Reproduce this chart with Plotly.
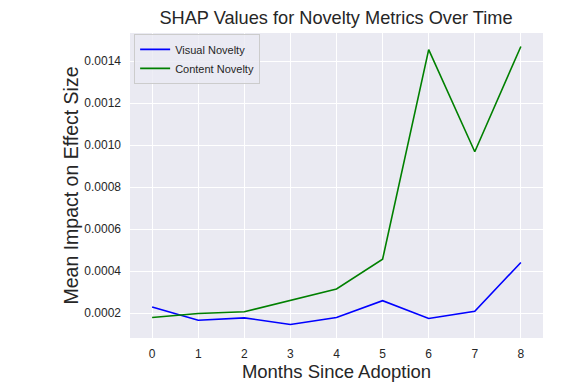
import plotly.graph_objects as go

months = [0, 1, 2, 3, 4, 5, 6, 7, 8]
visual_novelty = [0.000230, 0.000167, 0.000178, 0.000147, 0.000180, 0.000260, 0.000175, 0.000210, 0.000442]
content_novelty = [0.000180, 0.000199, 0.000207, 0.000263, 0.000316, 0.000457, 0.001455, 0.000969, 0.001470]
y_ticks = [0.0002, 0.0004, 0.0006, 0.0008, 0.0010, 0.0012, 0.0014]

fig = go.Figure()
fig.add_trace(go.Scatter(x=months, y=visual_novelty, mode="lines", name="Visual Novelty",
                         line=dict(color="#0000ff", width=1.6)))
fig.add_trace(go.Scatter(x=months, y=content_novelty, mode="lines", name="Content Novelty",
                         line=dict(color="#008000", width=1.6)))

font_family = "Liberation Sans, Arial, DejaVu Sans, sans-serif"
fig.update_layout(
    width=580, height=382,
    margin=dict(l=122, r=45, t=25, b=48),
    paper_bgcolor="white",
    plot_bgcolor="#EAEAF2",
    font=dict(family=font_family, color="#262626", size=12),
    title=dict(text="SHAP Values for Novelty Metrics Over Time", x=0.5655, xanchor="center",
               y=0.974, yanchor="middle", font=dict(size=18.2, color="#262626")),
    xaxis=dict(range=[-0.48, 8.48], tickmode="array", tickvals=months,
               ticktext=[str(m) for m in months],
               showgrid=True, gridcolor="white", gridwidth=1, zeroline=False, showline=False,
               ticks="", ticklabelstandoff=7, tickfont=dict(size=12),
               title=dict(text="Months Since Adoption", font=dict(size=18.5, color="#262626"), standoff=4)),
    yaxis=dict(range=[0.0000824, 0.001534], tickmode="array", tickvals=y_ticks,
               ticktext=[f"{v:.4f}" for v in y_ticks],
               showgrid=True, gridcolor="white", gridwidth=1, zeroline=False, showline=False,
               ticks="", ticklabelstandoff=8, tickfont=dict(size=12),
               title=dict(text="Mean Impact on Effect Size", font=dict(size=19.5, color="#262626"), standoff=0)),
    legend=dict(x=0.01, y=0.997, xanchor="left", yanchor="top",
                bgcolor="rgba(234,234,242,0.8)", bordercolor="#cccccc", borderwidth=1,
                font=dict(size=11, color="#262626"), tracegroupgap=0, itemwidth=30),
    showlegend=True,
)

fig.write_html("out.html")
